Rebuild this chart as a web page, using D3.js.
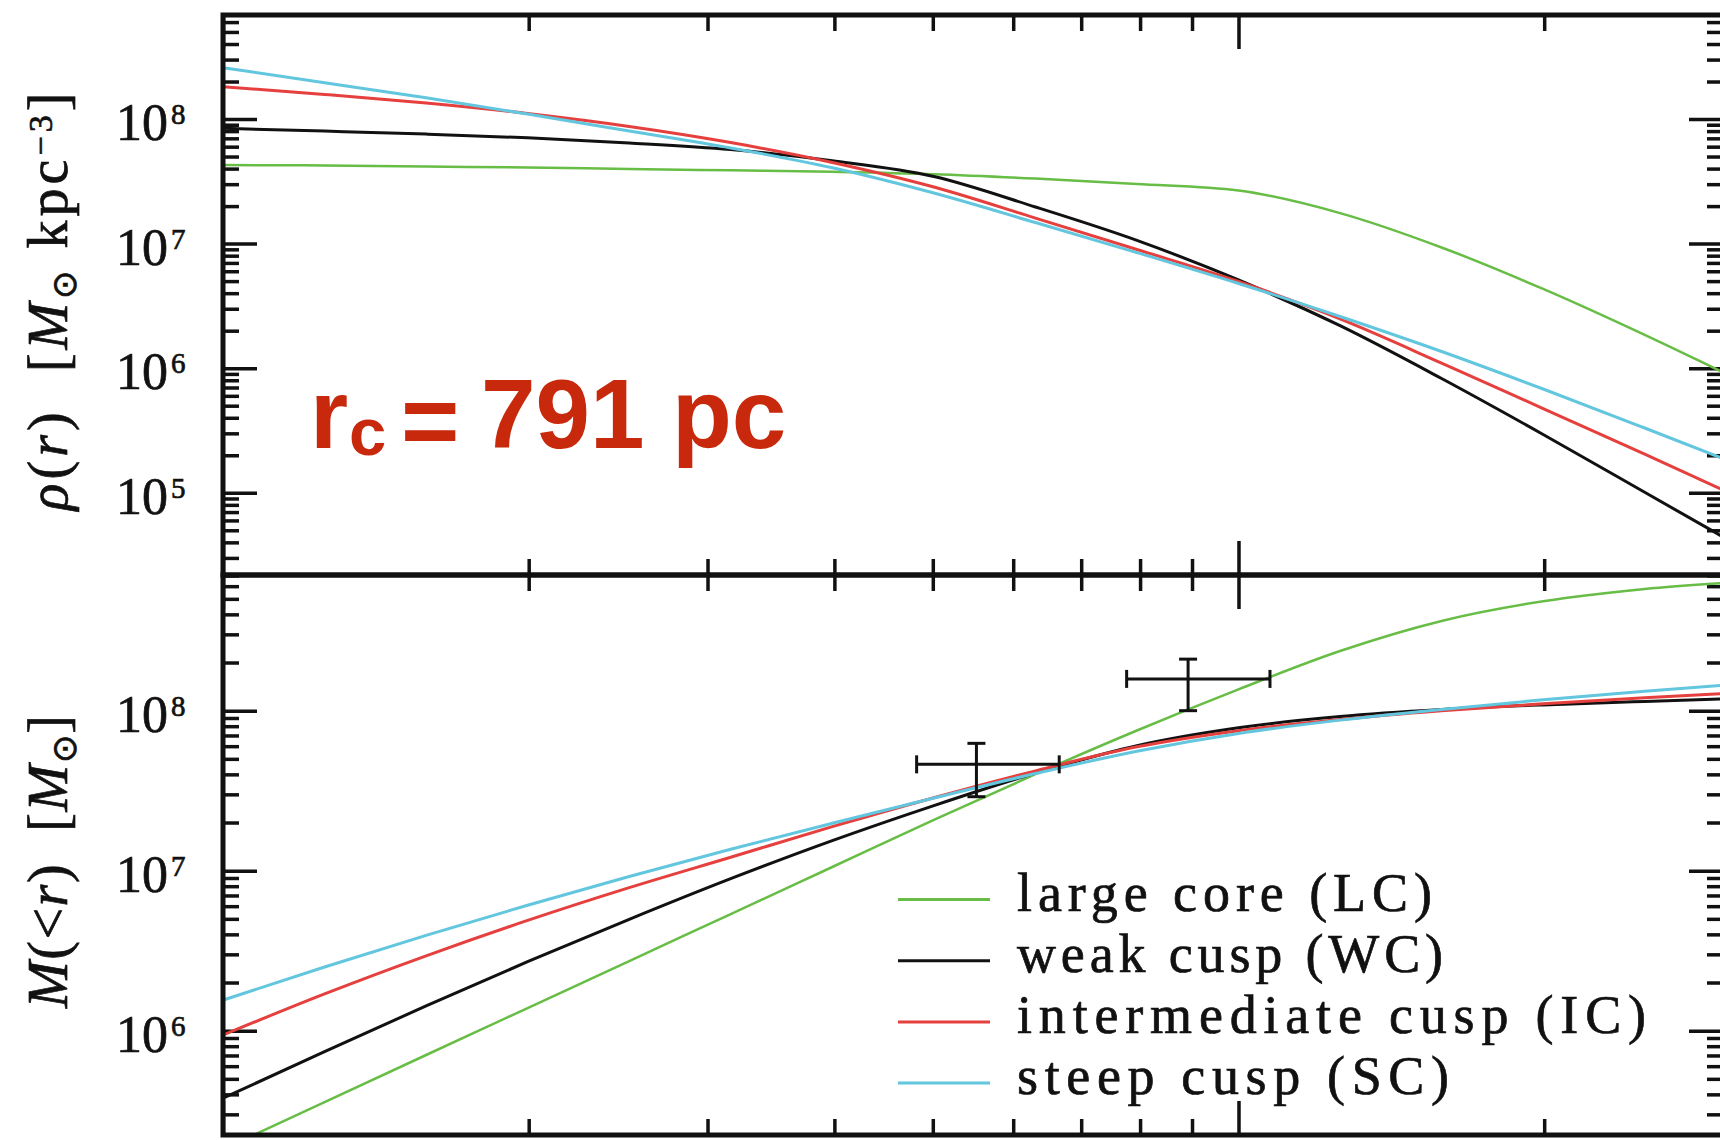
<!DOCTYPE html>
<html>
<head>
<meta charset="utf-8">
<script src="https://cdn.jsdelivr.net/npm/d3@7"></script>
<style>
  html, body { margin: 0; padding: 0; background: #fff; }
  svg { display: block; }
  .serif { font-family: "Liberation Serif", "Times New Roman", serif; fill: #111; stroke: #111; stroke-width: 0.7; }
  .tick line { stroke: #111; stroke-width: 3.5; }
</style>
</head>
<body>
<svg id="chart" width="1720" height="1140"></svg>
<script>
// Radial grid (kpc), 0.1 dex steps, on which the model curves are sampled
const radii = [0.1, 0.1259, 0.1585, 0.1995, 0.2512, 0.3162, 0.3981, 0.5012, 0.631, 0.7943, 1.0, 1.2589, 1.5849, 1.9953, 2.5119, 3.0];

// log10 density, rho(r) [Msun kpc^-3]
const logRhoLC = [7.631, 7.627, 7.619, 7.611, 7.599, 7.588, 7.576, 7.557, 7.522, 7.478, 7.426, 7.245, 6.969, 6.636, 6.267, 5.967];
const logRhoWC = [7.925, 7.903, 7.879, 7.849, 7.808, 7.755, 7.665, 7.539, 7.294, 7.026, 6.708, 6.341, 5.917, 5.468, 5.004, 4.646];
const logRhoIC = [8.259, 8.197, 8.128, 8.044, 7.940, 7.811, 7.651, 7.454, 7.205, 6.953, 6.696, 6.395, 6.041, 5.676, 5.311, 5.022];
const logRhoSC = [8.412, 8.291, 8.171, 8.040, 7.904, 7.768, 7.609, 7.406, 7.169, 6.928, 6.680, 6.415, 6.134, 5.833, 5.520, 5.275];

// log10 enclosed mass, M(<r) [Msun]
const logMassLC = [5.259, 5.554, 5.848, 6.141, 6.435, 6.729, 7.023, 7.317, 7.603, 7.876, 8.133, 8.373, 8.561, 8.684, 8.761, 8.798];
const logMassWC = [5.578, 5.869, 6.155, 6.431, 6.696, 6.950, 7.188, 7.407, 7.610, 7.781, 7.893, 7.963, 8.007, 8.036, 8.058, 8.073];
const logMassIC = [5.973, 6.230, 6.468, 6.689, 6.894, 7.084, 7.275, 7.456, 7.624, 7.774, 7.875, 7.945, 7.999, 8.043, 8.081, 8.107];
const logMassSC = [6.191, 6.398, 6.596, 6.784, 6.964, 7.134, 7.296, 7.454, 7.607, 7.747, 7.858, 7.941, 8.008, 8.068, 8.122, 8.159];

// Mass estimates with error bars
const obsR    = [0.552, 0.892];
const obsRLo  = [0.482, 0.776];
const obsRHi  = [0.666, 1.074];
const obsM    = [4.62e7, 1.58e8];
const obsMLo  = [2.90e7, 1.00e8];
const obsMHi  = [6.25e7, 2.10e8];

// Model names and colours
const modelNames  = ["large core (LC)", "weak cusp (WC)", "intermediate cusp (IC)", "steep cusp (SC)"];
const modelColors = ["#67bd45", "#111111", "#e5403e", "#62c6de"];
const modelWidths = [2.5, 3, 3, 3];

// Axis tick exponents
const rhoTickExps  = [5, 6, 7, 8];
const massTickExps = [6, 7, 8];

const svg = d3.select("#chart");

const plotL = 223, plotR = 1723, plotT = 15, plotM = 575, plotB = 1135;

const x = d3.scaleLog().domain([0.1, 3]).range([plotL, plotR]);
const yRho = d3.scaleLog().domain([Math.pow(10, 4.34), Math.pow(10, 8.835)]).range([plotM, plotT]);
const yMass = d3.scaleLog().domain([Math.pow(10, 5.348), Math.pow(10, 8.848)]).range([plotB, plotM]);

const defs = svg.append("defs");
defs.append("clipPath").attr("id", "clipTop")
  .append("rect").attr("x", plotL).attr("y", plotT).attr("width", plotR - plotL).attr("height", plotM - plotT);
defs.append("clipPath").attr("id", "clipBot")
  .append("rect").attr("x", plotL).attr("y", plotM).attr("width", plotR - plotL).attr("height", plotB - plotM);

const isPow10 = v => Math.abs(Math.log10(v) - Math.round(Math.log10(v))) < 1e-9;

// ---- ticks ----
function xTicks(yPos, dir) {
  const all = x.ticks();
  const major = all.filter(isPow10);
  const minor = all.filter(v => !isPow10(v));
  const mk = dir === "top" ? d3.axisTop : d3.axisBottom;
  [[major, 34], [minor, 16]].forEach(([vals, len]) => {
    svg.append("g").attr("transform", `translate(0,${yPos})`)
      .call(mk(x).tickValues(vals).tickSize(-len).tickFormat(""))
      .call(g => g.select(".domain").remove());
  });
}
xTicks(plotT, "top");
xTicks(plotM, "bottom");
xTicks(plotM, "top");
xTicks(plotB, "bottom");

function yTicks(scale) {
  const all = scale.ticks();
  const major = all.filter(isPow10);
  const minor = all.filter(v => !isPow10(v));
  [[major, 34], [minor, 16]].forEach(([vals, len]) => {
    svg.append("g").attr("transform", `translate(${plotL},0)`)
      .call(d3.axisLeft(scale).tickValues(vals).tickSize(-len).tickFormat(""))
      .call(g => g.select(".domain").remove());
    svg.append("g").attr("transform", `translate(${plotR},0)`)
      .call(d3.axisRight(scale).tickValues(vals).tickSize(-len).tickFormat(""))
      .call(g => g.select(".domain").remove());
  });
}
yTicks(yRho);
yTicks(yMass);

// ---- tick labels 10^n ----
function yLabels(scale, exps) {
  const g = svg.append("g").attr("class", "serif");
  exps.forEach(e => {
    const yy = scale(Math.pow(10, e));
    g.append("text").attr("x", 168).attr("y", yy + 21)
      .attr("text-anchor", "end").attr("font-size", 52).text("10");
    g.append("text").attr("x", 171).attr("y", yy + 5)
      .attr("font-size", 29).text(e);
  });
}
yLabels(yRho, rhoTickExps);
yLabels(yMass, massTickExps);

// ---- curves ----
const line = (scale) => d3.line()
  .x(d => x(d[0]))
  .y(d => scale(d[1]))
  .curve(d3.curveMonotoneX);

const rhoSeries  = [logRhoLC, logRhoWC, logRhoIC, logRhoSC];
const massSeries = [logMassLC, logMassWC, logMassIC, logMassSC];

const gTop = svg.append("g").attr("clip-path", "url(#clipTop)");
const gBot = svg.append("g").attr("clip-path", "url(#clipBot)");

// drawing order: green, black, red, cyan
[0, 1, 2, 3].forEach(i => {
  gTop.append("path")
    .datum(radii.map((r, k) => [r, Math.pow(10, rhoSeries[i][k])]))
    .attr("fill", "none").attr("stroke", modelColors[i])
    .attr("stroke-width", modelWidths[i]).attr("stroke-linejoin", "round")
    .attr("d", line(yRho));
  gBot.append("path")
    .datum(radii.map((r, k) => [r, Math.pow(10, massSeries[i][k])]))
    .attr("fill", "none").attr("stroke", modelColors[i])
    .attr("stroke-width", modelWidths[i]).attr("stroke-linejoin", "round")
    .attr("d", line(yMass));
});

// ---- error bars ----
const eb = svg.append("g").attr("stroke", "#111").attr("stroke-width", 3).attr("fill", "none");
const cap = 9;
obsR.forEach((r, i) => {
  const cx = x(r), cy = yMass(obsM[i]);
  const x0 = x(obsRLo[i]), x1 = x(obsRHi[i]);
  const y0 = yMass(obsMLo[i]), y1 = yMass(obsMHi[i]);
  eb.append("line").attr("x1", x0).attr("x2", x1).attr("y1", cy).attr("y2", cy);
  eb.append("line").attr("x1", x0).attr("x2", x0).attr("y1", cy - cap).attr("y2", cy + cap);
  eb.append("line").attr("x1", x1).attr("x2", x1).attr("y1", cy - cap).attr("y2", cy + cap);
  eb.append("line").attr("x1", cx).attr("x2", cx).attr("y1", y0).attr("y2", y1);
  eb.append("line").attr("x1", cx - cap).attr("x2", cx + cap).attr("y1", y0).attr("y2", y0);
  eb.append("line").attr("x1", cx - cap).attr("x2", cx + cap).attr("y1", y1).attr("y2", y1);
});

// ---- frames ----
[[plotT, plotM], [plotM, plotB]].forEach(([a, b]) => {
  svg.append("rect").attr("x", plotL).attr("y", a)
    .attr("width", plotR - plotL).attr("height", b - a)
    .attr("fill", "none").attr("stroke", "#111").attr("stroke-width", 5);
});

// ---- axis titles ----
function title(cy, len, build) {
  const t = svg.append("text").attr("class", "serif")
    .attr("transform", `translate(67,${cy}) rotate(-90)`)
    .attr("text-anchor", "middle").attr("font-size", 56)
    .style("white-space", "pre");
  build(t);
  t.attr("textLength", len).attr("lengthAdjust", "spacing");
}
title(301.5, 418, t => {
  t.append("tspan").attr("font-style", "italic").text("ρ");
  t.append("tspan").text("(");
  t.append("tspan").attr("font-style", "italic").text("r");
  t.append("tspan").text(")  [");
  t.append("tspan").attr("font-style", "italic").text("M");
  t.append("tspan").attr("font-size", 34).attr("dy", 9).text("⊙");
  t.append("tspan").attr("dy", -9).text(" kpc");
  t.append("tspan").attr("font-size", 34).attr("dy", -15).text("−3");
  t.append("tspan").attr("dy", 15).text("]");
});
title(861.5, 293, t => {
  t.append("tspan").attr("font-style", "italic").text("M");
  t.append("tspan").text("(<");
  t.append("tspan").attr("font-style", "italic").text("r");
  t.append("tspan").text(")  [");
  t.append("tspan").attr("font-style", "italic").text("M");
  t.append("tspan").attr("font-size", 34).attr("dy", 9).text("⊙");
  t.append("tspan").attr("dy", -9).text("]");
});

// ---- legend ----
const legendY0 = 899.5, legendDy = 61.2;
const legendLens = [415, 426, 629, 432];
modelNames.forEach((name, i) => {
  const ly = legendY0 + i * legendDy;
  svg.append("line").attr("x1", 898).attr("x2", 990).attr("y1", ly).attr("y2", ly)
    .attr("stroke", modelColors[i]).attr("stroke-width", 3);
  svg.append("text").attr("class", "serif")
    .attr("x", 1017).attr("y", ly + 11).attr("font-size", 54)
    .attr("textLength", legendLens[i]).attr("lengthAdjust", "spacing")
    .text(name);
});

// ---- core radius annotation ----
const note = svg.append("g")
  .attr("font-family", "'Liberation Sans', Arial, Helvetica, sans-serif")
  .attr("font-weight", "bold").attr("fill", "#c8290c");
note.append("text").attr("x", 310).attr("y", 448).attr("font-size", 98).text("r");
note.append("text").attr("x", 349).attr("y", 455).attr("font-size", 67).text("c");
note.append("text").attr("x", 401).attr("y", 455).attr("font-size", 100).text("=");
note.append("text").attr("x", 481).attr("y", 448).attr("font-size", 98).text("791");
note.append("text").attr("x", 672).attr("y", 448).attr("font-size", 98).text("pc");
</script>
</body>
</html>
